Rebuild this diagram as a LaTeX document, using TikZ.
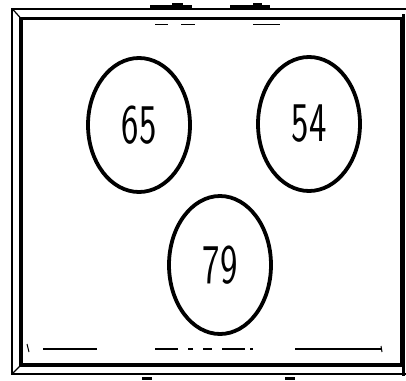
\documentclass[tikz,border=0pt]{standalone}
\usetikzlibrary{shapes.geometric}
\tikzset{
  ballnode/.style={ellipse, draw=black, line width=3.8pt, fill=white, inner sep=0pt,
    minimum width=102pt, minimum height=134pt, font=\sffamily},
  outerline/.style={line width=2pt},
  innerline/.style={line width=3.6pt},
  dashmark/.style={line width=1.3pt},
}
\newcommand{\bignum}[1]{\scalebox{0.66}[1]{\fontsize{56}{60}\selectfont #1}}
\begin{document}
\begin{tikzpicture}[x=1pt,y=-1pt]
\useasboundingbox (0,0) rectangle (406,380);
% outer frame
\coordinate (otl) at (12,8.5);
\coordinate (otr) at (406,8.5);
\coordinate (obl) at (12,374);
\coordinate (obr) at (406,374);
\coordinate (itl) at (21,18.5);
\coordinate (itr) at (402,18.5);
\coordinate (ibl) at (21,365);
\coordinate (ibr) at (402,365);
\draw[outerline] (otr) -- (otl) -- (obl) -- (obr);
\draw[line width=1.2pt] (otl) -- (itl) (obl) -- (ibl);
\draw[innerline] (itl) rectangle (ibr);
\draw[line width=2.5pt] (403.5,14) -- (403.5,376);
% top tabs
\fill (150,5) rectangle (192,8);
\fill (172,2.5) rectangle (183,5);
\fill (230,5) rectangle (270,8);
\fill (253,2.5) rectangle (262,5);
% feet
\fill (142,376.5) rectangle (152,380);
\fill (285,376.5) rectangle (295,380);
% marks near top
\draw[dashmark] (155,24.5) -- (168,24.5);
\draw[dashmark] (181,24.5) -- (195,24.5);
\draw[dashmark] (253,24.5) -- (280,24.5);
% marks near bottom
\draw[dashmark] (43,349) -- (97,349);
\draw[dashmark] (155,349) -- (178,349);
\draw[dashmark] (188,349) -- (193,349);
\draw[dashmark] (203,349) -- (212,349);
\draw[dashmark] (222,349) -- (245,349);
\draw[dashmark] (250,349) -- (253,349);
\draw[dashmark] (295,349) -- (381,349);
\draw[line width=1pt] (381,346) -- (382,352);
\draw[line width=1pt] (27,344) -- (29,352);
% balls
\node[ballnode] (b65) at (139,125) {\bignum{65}};
\node[ballnode] (b54) at (309,124) {\bignum{54}};
\node[ballnode, minimum height=138pt] (b79) at (220,265) {\bignum{79}};
\end{tikzpicture}
\end{document}
